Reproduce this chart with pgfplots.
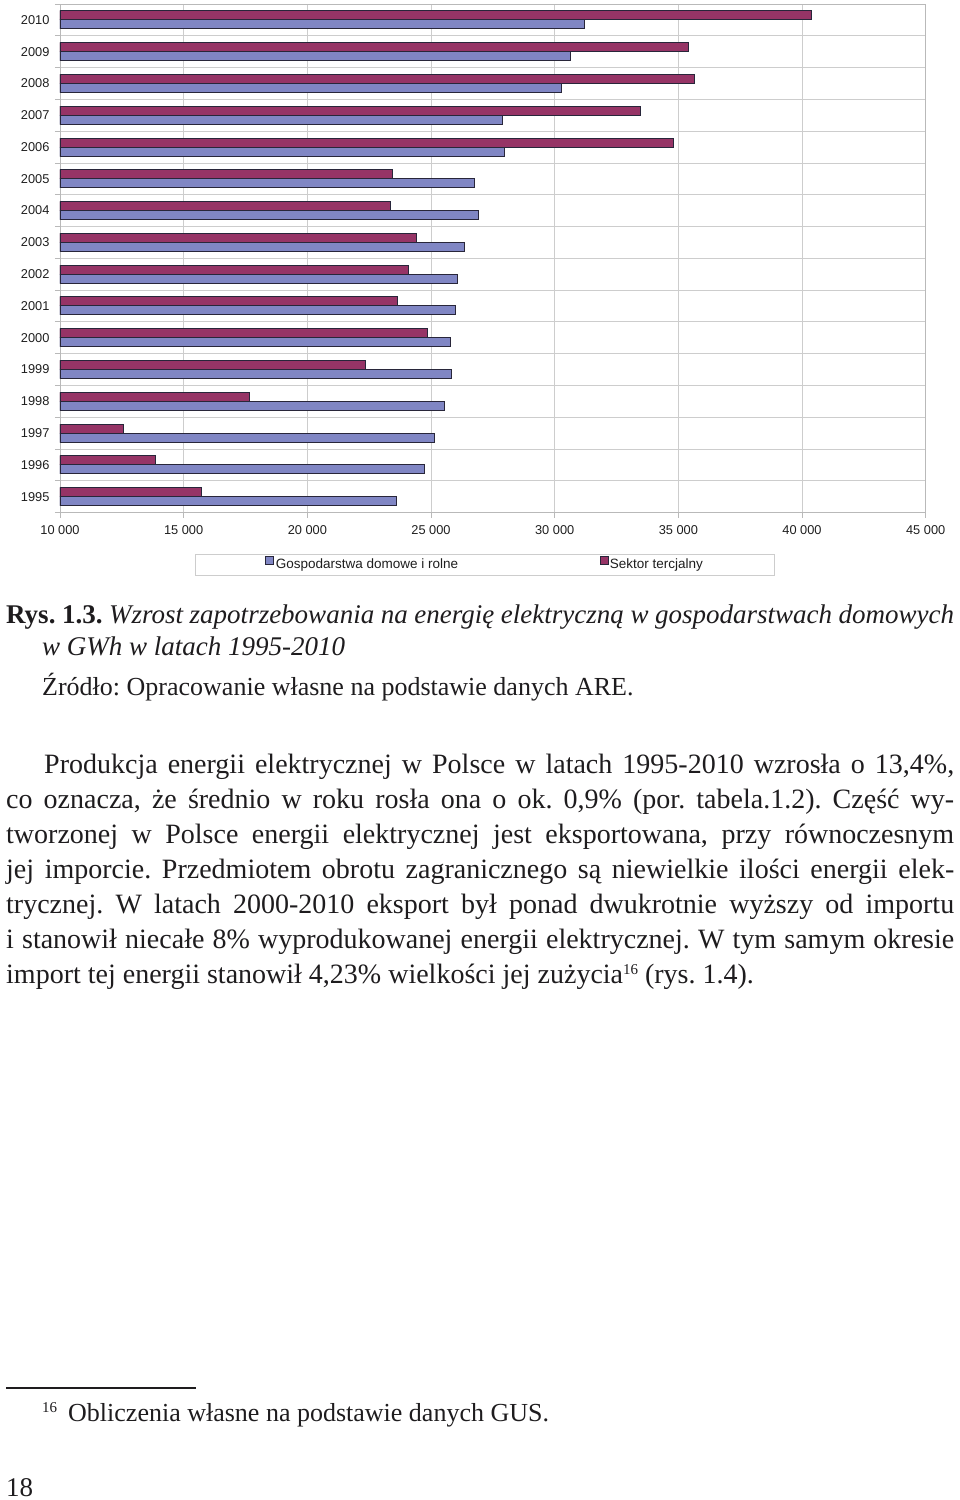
\documentclass[border=0pt]{standalone}
\usepackage{pgfplots}
\pgfplotsset{compat=1.18}
\usepackage{pgfplotstable}
\usepackage{fontspec}
\setmainfont{Liberation Serif}
\newfontfamily\chartfont{Liberation Sans}
\frenchspacing

\definecolor{barblue}{RGB}{128,134,196}
\definecolor{barpurple}{RGB}{150,52,102}
\definecolor{outline}{RGB}{40,38,58}
\definecolor{gridgray}{RGB}{205,205,205}
\definecolor{axisgray}{RGB}{185,185,185}
\definecolor{charttext}{RGB}{30,30,30}
\definecolor{pagetext}{RGB}{30,28,30}

\pgfplotstableread{
idx year gosp sektor
0 1995 23590 15710
1 1996 24720 13870
2 1997 25140 12580
3 1998 25530 17680
4 1999 25840 22370
5 2000 25780 24870
6 2001 25990 23630
7 2002 26070 24100
8 2003 26340 24420
9 2004 26930 23360
10 2005 26740 23450
11 2006 27970 34790
12 2007 27870 33470
13 2008 30270 35670
14 2009 30620 35390
15 2010 31200 40400
}\datatable

\begin{document}
\begin{tikzpicture}[x=1pt,y=-1pt]
\path[use as bounding box] (0,0) rectangle (960,1500);
\begin{axis}[
  at={(60pt,-512.5pt)}, anchor=south west,
  scale only axis, width=865.7pt, height=508.5pt,
  xmin=10000, xmax=45000, ymin=-0.5, ymax=15.5,
  scaled x ticks=false,
  xtick={10000,15000,20000,25000,30000,35000,40000,45000},
  xticklabels={{10 000},{15 000},{20 000},{25 000},{30 000},{35 000},{40 000},{45 000}},
  ytick={0,1,2,3,4,5,6,7,8,9,10,11,12,13,14,15},
  yticklabels={1995,1996,1997,1998,1999,2000,2001,2002,2003,2004,2005,2006,2007,2008,2009,2010},
  minor ytick={-0.5,0.5,1.5,2.5,3.5,4.5,5.5,6.5,7.5,8.5,9.5,10.5,11.5,12.5,13.5,14.5,15.5},
  xmajorgrids, yminorgrids,
  grid style={draw=gridgray, line width=0.8pt},
  minor grid style={draw=gridgray, line width=0.8pt},
  axis line style={draw=axisgray, line width=0.8pt},
  tick pos=left, tick align=outside,
  major tick length=5pt, minor tick length=5pt,
  xtick style={draw=axisgray, line width=0.8pt},
  major y tick style={draw=none},
  minor y tick style={draw=axisgray, line width=0.8pt},
  tick label style={font=\chartfont\fontsize{12.8}{15}\selectfont, text=charttext},
  xticklabel style={yshift=-5pt},
  yticklabel style={xshift=-2pt},
  xbar, bar width=9pt,
  legend columns=2,
  legend style={
    at={(0.156,-0.0816)}, anchor=north west,
    draw=gridgray, line width=0.8pt,
    font=\chartfont\fontsize{13.5}{16}\selectfont, text=charttext,
    inner xsep=70pt, inner ysep=1.5pt,
    /tikz/every even column/.append style={column sep=140pt},
    nodes={inner xsep=1.5pt, inner ysep=3pt},
  },
  legend image code/.code={\draw[#1, line width=0.8pt, draw=outline] (0pt,0.5pt) rectangle (8pt,8.5pt);},
]
\addplot[fill=barblue, draw=outline, line width=1pt, bar shift=-4.5pt]
  table[x=gosp, y=idx] {\datatable};
\addlegendentry{Gospodarstwa domowe i rolne}
\addplot[fill=barpurple, draw=outline, line width=1pt, bar shift=4.5pt]
  table[x=sektor, y=idx] {\datatable};
\addlegendentry{Sektor tercjalny}
\end{axis}

\begin{scope}[every node/.style={inner sep=0pt, anchor=base west, text=pagetext}]
\node at (6,623) {\fontsize{27}{32}\selectfont\makebox[948pt][s]{\textbf{Rys. 1.3.} \textit{Wzrost zapotrzebowania na energię elektryczną w gospodarstwach domowych}}};
\node at (42,655) {\fontsize{27}{32}\selectfont\textit{w GWh w latach 1995-2010}};
\node at (42,695) {\fontsize{26}{32}\selectfont Źródło: Opracowanie własne na podstawie danych ARE.};

\node at (44,773) {\fontsize{28}{34}\selectfont\makebox[910pt][s]{Produkcja energii elektrycznej w Polsce w latach 1995-2010 wzrosła o 13,4\%,}};
\node at (6,808) {\fontsize{28}{34}\selectfont\makebox[948pt][s]{co oznacza, że średnio w roku rosła ona o ok. 0,9\% (por. tabela.1.2). Część wy-}};
\node at (6,843) {\fontsize{28}{34}\selectfont\makebox[948pt][s]{tworzonej w Polsce energii elektrycznej jest eksportowana, przy równoczesnym}};
\node at (6,878) {\fontsize{28}{34}\selectfont\makebox[948pt][s]{jej imporcie. Przedmiotem obrotu zagranicznego są niewielkie ilości energii elek-}};
\node at (6,913) {\fontsize{28}{34}\selectfont\makebox[948pt][s]{trycznej. W latach 2000-2010 eksport był ponad dwukrotnie wyższy od importu}};
\node at (6,948) {\fontsize{28}{34}\selectfont\makebox[948pt][s]{i stanowił niecałe 8\% wyprodukowanej energii elektrycznej. W tym samym okresie}};
\node at (6,983) {\fontsize{28}{34}\selectfont import tej energii stanowił 4,23\% wielkości jej zużycia\raisebox{9pt}{\fontsize{15}{15}\selectfont 16} (rys. 1.4).};

\draw[line width=2pt, draw=pagetext] (6,1388) -- (196,1388);
\node at (42,1421) {\raisebox{9pt}{\fontsize{15}{15}\selectfont 16}\hspace{11pt}\fontsize{26}{30}\selectfont Obliczenia własne na podstawie danych GUS.};
\node at (6,1496) {\fontsize{27}{30}\selectfont 18};
\end{scope}
\end{tikzpicture}
\end{document}
